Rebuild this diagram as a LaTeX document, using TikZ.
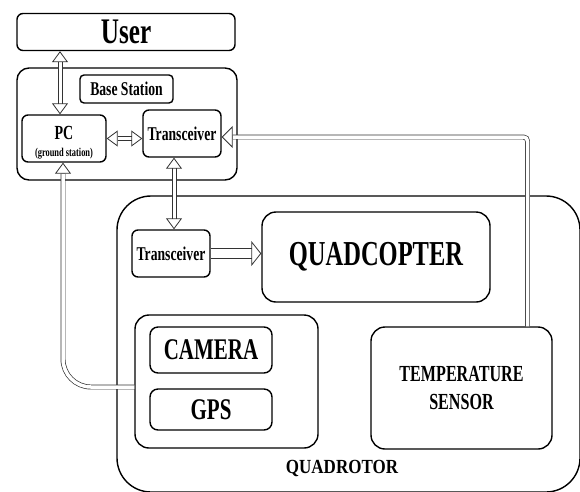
\documentclass[tikz,border=0pt]{standalone}
\usepackage{fontspec}
\newfontfamily\cfb[FakeStretch=0.7]{Liberation Serif Bold}
\newfontfamily\cfq[FakeStretch=0.85]{Liberation Serif Bold}
\usetikzlibrary{arrows.meta,calc}
\tikzset{
  box/.style={draw, line width=1.4pt, rounded corners=#1, inner sep=0pt, align=center},
  box/.default=7pt,
  dbl/.style={draw=black!80, line width=0.7pt, double=white, double distance=3.5pt},
  fat/.style={draw=black!80, line width=0.8pt, double=white, double distance=9pt},
  rail/.style={draw=black!80, line width=0.7pt},
  Hd/.tip={Triangle[open, length=11pt, width=16pt, line width=0.8pt]},
  Hw/.tip={Triangle[open, length=11pt, width=22pt, line width=0.8pt]},
  Hf/.tip={Triangle[open, length=10pt, width=25pt, line width=0.8pt]},
}
\newcommand{\fs}[1]{\fontsize{#1}{#1}\selectfont}
\begin{document}
\begin{tikzpicture}[x=1pt, y=-1pt]
\useasboundingbox (0,0) rectangle (580,491);
% big containers
\node[box=34pt, minimum width=463pt, minimum height=296pt] (qr) at (348.5,344) {};
\node[box=12pt, minimum width=220pt, minimum height=112pt] (bs) at (127,124) {};
% base station
\node[box=6pt, minimum width=218pt, minimum height=37pt, font=\cfb\fs{36}] (user) at (126,32) {User};
\node[box=4pt, minimum width=93pt, minimum height=28pt, font=\cfb\fs{19.5}] (bsl) at (126.5,89) {Base Station};
\node[box=6pt, minimum width=84pt, minimum height=47pt] (pc) at (64,138.5) {};
\node[font=\cfb\fs{20}] (pct) at (64,133) {PC};
\node[font=\cfb\fs{12}] (pcs) at (64,154) {(ground station)};
\node[box=6pt, minimum width=78pt, minimum height=47pt, font=\cfb\fs{19.5}] (tr1) at (182,133.5) {Transceiver};
% quadrotor
\node[box=6pt, minimum width=78pt, minimum height=47pt, font=\cfb\fs{19.5}] (tr2) at (171,253.5) {Transceiver};
\node[box=14pt, minimum width=228pt, minimum height=90pt, font=\cfb\fs{35}] (qc) at (376,257) {QUADCOPTER};
\node[box=14pt, minimum width=183pt, minimum height=133pt] (grp) at (226.5,381.5) {};
\node[box=8pt, minimum width=122pt, minimum height=46pt, font=\cfb\fs{30}] (cam) at (211,350) {CAMERA};
\node[box=8pt, minimum width=122pt, minimum height=41pt, font=\cfb\fs{30}] (gps) at (211,409.5) {GPS};
\node[box=14pt, minimum width=181pt, minimum height=122pt, font=\cfb\fs{23}] (temp) at (461.5,388) {TEMPERATURE\\[5pt]SENSOR};
\node[font=\cfq\fs{20}] (qrl) at (342,468) {QUADROTOR};
% connectors
\coordinate (ux) at ($(pc.north)+(-4,0)$);
\coordinate (uy) at (ux |- user.south);
\draw[dbl, Hd-Hd] (ux) -- (uy);
\draw[rail] ($(ux)+(-2.1,-10.5)$) -- ($(uy)+(-2.1,10.5)$);
\draw[rail] ($(ux)+(2.1,-10.5)$) -- ($(uy)+(2.1,10.5)$);
\draw[dbl, Hd-Hd] (pc.east) -- (pc.east -| tr1.west);
\coordinate (tx) at ($(tr1.south)+(-8,0)$);
\coordinate (ty) at (tx |- tr2.north);
\draw[dbl, Hd-Hd] (tx) -- (ty);
\draw[rail] ($(tx)+(-2.1,10.5)$) -- ($(ty)+(-2.1,-10.5)$);
\draw[rail] ($(tx)+(2.1,10.5)$) -- ($(ty)+(2.1,-10.5)$);
\draw[fat, -Hf] (tr2.east) -- (tr2.east -| qc.west);
\draw[dbl, -Hw, rounded corners=4pt] ($(temp.north)+(66,0)$) |- ($(tr1.east)+(0,3.5)$);
\draw[dbl, -Hd, rounded corners=28pt] ($(grp.west)+(0,5.5)$) -| ($(pc.south)+(-1,0)$);
\end{tikzpicture}
\end{document}
